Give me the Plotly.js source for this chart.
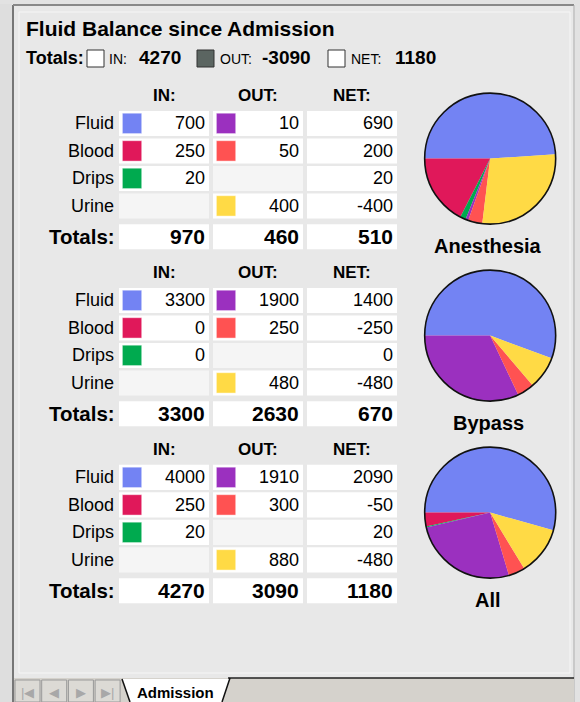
<!DOCTYPE html>
<html><head><meta charset="utf-8">
<script src="https://cdn.plot.ly/plotly-3.0.1.min.js"></script>
<style>html,body{margin:0;padding:0;background:#e8e8e8;}#chart{width:580px;height:702px;}</style>
</head><body><div id="chart"></div>
<script>
// ---------- DATA ----------
const sections = ['Anesthesia', 'Bypass', 'All'];
const rowLabels = ['Fluid', 'Blood', 'Drips', 'Urine'];
const colHeaders = ['IN:', 'OUT:', 'NET:'];
const inColors  = ['#7383f3', '#e0185a', '#00aa4f', null];
const outColors = ['#9b30bf', '#ff5252', null, '#ffda45'];

const anesthesiaIn  = [700, 250, 20, null];
const anesthesiaOut = [10, 50, null, 400];
const anesthesiaNet = [690, 200, 20, -400];
const anesthesiaTotals = [970, 460, 510];

const bypassIn  = [3300, 0, 0, null];
const bypassOut = [1900, 250, null, 480];
const bypassNet = [1400, -250, 0, -480];
const bypassTotals = [3300, 2630, 670];

const allIn  = [4000, 250, 20, null];
const allOut = [1910, 300, null, 880];
const allNet = [2090, -50, 20, -480];
const allTotals = [4270, 3090, 1180];

const grandLabels = ['IN:', 'OUT:', 'NET:'];
const grandTotals = [4270, -3090, 1180];

const sectionData = [
  {ins: anesthesiaIn, outs: anesthesiaOut, nets: anesthesiaNet, totals: anesthesiaTotals},
  {ins: bypassIn, outs: bypassOut, nets: bypassNet, totals: bypassTotals},
  {ins: allIn, outs: allOut, nets: allNet, totals: allTotals}
];

// ---------- LAYOUT GEOMETRY ----------
const W = 580, H = 702;
const X0 = 164, DX = 94;      // column scale (px)
const Y0 = 123.4, DY = 27.5;  // row scale (px)
const SEC = 6.436;            // rows between sections
const TOT_ROW = 4.12;
const HALF_W = 0.479, HALF_H = 0.455;
const FONT = 'Liberation Sans, Arial, sans-serif';
const px = x => x / W;
const py = y => 1 - y / H;
const colToPx = c => X0 + c * DX;
const rowToPx = r => Y0 + r * DY;

const shapes = [];
const annotations = [];
const traces = [];

// ---------- FRAME DECORATION ----------
shapes.push({type:'rect', xref:'paper', yref:'paper', x0:0, x1:px(12), y0:0, y1:1, fillcolor:'#dedede', line:{width:0}, layer:'below'});
shapes.push({type:'rect', xref:'paper', yref:'paper', x0:px(575), x1:1, y0:0, y1:1, fillcolor:'#e2e2e2', line:{width:0}, layer:'below'});
shapes.push({type:'rect', xref:'paper', yref:'paper', x0:0, x1:1, y0:py(4), y1:1, fillcolor:'#e2e2e2', line:{width:0}, layer:'below'});
shapes.push({type:'line', xref:'paper', yref:'paper', x0:px(13), x1:px(13), y0:0, y1:py(5), line:{color:'#777', width:2}});
shapes.push({type:'line', xref:'paper', yref:'paper', x0:px(13), x1:px(574), y0:py(5), y1:py(5), line:{color:'#888', width:2}});
shapes.push({type:'line', xref:'paper', yref:'paper', x0:px(574), x1:px(574), y0:0, y1:py(5), line:{color:'#aaa', width:1}});
shapes.push({type:'rect', xref:'paper', yref:'paper', x0:px(19), x1:px(570), y0:py(673), y1:py(12), fillcolor:'rgba(0,0,0,0)', line:{color:'#f6f6f6', width:1}});

// tab bar
shapes.push({type:'rect', xref:'paper', yref:'paper', x0:px(14), x1:px(574), y0:0, y1:py(678), fillcolor:'#d5d2cc', line:{width:0}});
shapes.push({type:'line', xref:'paper', yref:'paper', x0:px(228), x1:px(574), y0:py(678), y1:py(678), line:{color:'#222', width:1.5}});
for (let i = 0; i < 4; i++) {
  const bx = 15 + i * 26.7;
  shapes.push({type:'rect', xref:'paper', yref:'paper', x0:px(bx), x1:px(bx + 25), y0:0, y1:py(680), fillcolor:'#dcdad5', line:{color:'#999', width:1}});
}
const navIcons = ['|◀', '◀', '▶', '▶|'];
navIcons.forEach((t, i) => {
  annotations.push({xref:'paper', yref:'paper', x:px(15 + i * 26.7 + 12.5), y:py(692), text:t, showarrow:false, font:{family:FONT, size:13, color:'#a8a8a8'}, xanchor:'center', yanchor:'middle'});
});
shapes.push({type:'path', xref:'paper', yref:'paper', path:`M ${px(122)} ${py(679)} L ${px(130)} ${py(702)} L ${px(222)} ${py(702)} L ${px(230)} ${py(679)} Z`, fillcolor:'#ffffff', line:{width:0}});
shapes.push({type:'line', xref:'paper', yref:'paper', x0:px(122), x1:px(130), y0:py(679), y1:py(702), line:{color:'#111', width:1.5}});
shapes.push({type:'line', xref:'paper', yref:'paper', x0:px(230), x1:px(222), y0:py(678), y1:py(702), line:{color:'#111', width:1.5}});
annotations.push({xref:'paper', yref:'paper', x:px(175), y:py(692), text:'<b>Admission</b>', showarrow:false, font:{family:FONT, size:15, color:'#000'}, xanchor:'center', yanchor:'middle'});

// ---------- HEADER ----------
annotations.push({xref:'paper', yref:'paper', x:px(24), y:py(28), text:'<b>Fluid Balance since Admission</b>', showarrow:false, font:{family:FONT, size:21, color:'#000'}, xanchor:'left', yanchor:'middle'});
annotations.push({xref:'paper', yref:'paper', x:px(24), y:py(58), text:'<b>Totals:</b>', showarrow:false, font:{family:FONT, size:18, color:'#000'}, xanchor:'left', yanchor:'middle'});
const grandBoxX = [87, 197, 328];
const grandBoxFill = ['#ffffff', '#5b6561', '#ffffff'];
const grandLabelX = [107, 218, 349];
const grandValX = [137, 260, 393];
grandLabels.forEach((lab, i) => {
  shapes.push({type:'rect', xref:'paper', yref:'paper', x0:px(grandBoxX[i]), x1:px(grandBoxX[i] + 17), y0:py(67), y1:py(50), fillcolor:grandBoxFill[i], line:{color:'#333', width:1}});
  annotations.push({xref:'paper', yref:'paper', x:px(grandLabelX[i]), y:py(59), text:lab, showarrow:false, font:{family:FONT, size:14, color:'#000'}, xanchor:'left', yanchor:'middle'});
  annotations.push({xref:'paper', yref:'paper', x:px(grandValX[i]), y:py(58), text:'<b>' + grandTotals[i] + '</b>', showarrow:false, font:{family:FONT, size:19, color:'#000'}, xanchor:'left', yanchor:'middle'});
});

// ---------- TABLES + PIES ----------
sectionData.forEach((sd, s) => {
  const off = s * SEC;
  const colsVals = [sd.ins, sd.outs, sd.nets];
  const colsColors = [inColors, outColors, null];
  colHeaders.forEach((h, c) => {
    annotations.push({xref:'x', yref:'y', x:c, y:off - 1.03, text:'<b>' + h + '</b>', showarrow:false, font:{family:FONT, size:17, color:'#000'}, xanchor:'center', yanchor:'middle'});
  });
  rowLabels.forEach((lab, r) => {
    const yr = off + r;
    annotations.push({xref:'x', yref:'y', x:-HALF_W - 0.035, y:yr, text:lab, showarrow:false, font:{family:FONT, size:18, color:'#000'}, xanchor:'right', yanchor:'middle'});
    colsVals.forEach((vals, c) => {
      const v = vals[r];
      shapes.push({type:'rect', xref:'x', yref:'y', x0:c - HALF_W, x1:c + HALF_W, y0:yr - HALF_H, y1:yr + HALF_H, fillcolor: v === null ? '#f5f5f5' : '#ffffff', line:{width:0}, layer:'below'});
      if (v !== null) {
        annotations.push({xref:'x', yref:'y', x:c + HALF_W - 0.02, y:yr, text:String(v), showarrow:false, font:{family:FONT, size:18, color:'#000'}, xanchor:'right', yanchor:'middle'});
        const cols = colsColors[c];
        if (cols && cols[r]) {
          shapes.push({type:'rect', xref:'x', yref:'y', x0:c - 0.34 - 0.103, x1:c - 0.34 + 0.103, y0:yr - 0.371, y1:yr + 0.371, fillcolor:cols[r], line:{color:'rgba(255,255,255,0.45)', width:1}});
        }
      }
    });
  });
  const yt = off + TOT_ROW;
  annotations.push({xref:'x', yref:'y', x:-HALF_W - 0.025, y:yt, text:'<b>Totals:</b>', showarrow:false, font:{family:FONT, size:20.5, color:'#000'}, xanchor:'right', yanchor:'middle'});
  sd.totals.forEach((t, c) => {
    shapes.push({type:'rect', xref:'x', yref:'y', x0:c - HALF_W, x1:c + HALF_W, y0:yt - HALF_H, y1:yt + HALF_H, fillcolor:'#ffffff', line:{width:0}, layer:'below'});
    annotations.push({xref:'x', yref:'y', x:c + HALF_W - 0.02, y:yt, text:'<b>' + t + '</b>', showarrow:false, font:{family:FONT, size:21, color:'#000'}, xanchor:'right', yanchor:'middle'});
  });

  // pie
  const pcx = colToPx(3.47), pcy = rowToPx(off + 1.28), rad = 65.5;
  const dom = {x:[px(pcx - rad), px(pcx + rad)], y:[py(pcy + rad), py(pcy - rad)]};
  const pieLabels = ['Fluid IN', 'Blood IN', 'Drips IN', 'Fluid OUT', 'Blood OUT', 'Urine OUT'];
  const pieValues = [sd.ins[0], sd.ins[1], sd.ins[2], sd.outs[0], sd.outs[1], sd.outs[3]];
  const pieColors = [inColors[0], inColors[1], inColors[2], outColors[0], outColors[1], outColors[3]];
  traces.push({type:'pie', labels:pieLabels, values:pieValues, marker:{colors:pieColors, line:{width:0}}, sort:false, direction:'counterclockwise', rotation:-90, textinfo:'none', hoverinfo:'none', domain:dom, showlegend:false});
  traces.push({type:'pie', labels:['outline'], values:[1], marker:{colors:['rgba(0,0,0,0)'], line:{color:'#111', width:1.6}}, sort:false, textinfo:'none', hoverinfo:'none', domain:dom, showlegend:false});
  annotations.push({xref:'x', yref:'y', x:3.45, y:off + 4.47, text:'<b>' + sections[s] + '</b>', showarrow:false, font:{family:FONT, size:20, color:'#000'}, xanchor:'center', yanchor:'middle'});
});

const layout = {
  width: W, height: H,
  margin: {l:0, r:0, t:0, b:0},
  paper_bgcolor: '#e8e8e8', plot_bgcolor: 'rgba(0,0,0,0)',
  showlegend: false,
  xaxis: {range: [(0 - X0) / DX, (W - X0) / DX], domain:[0,1], visible:false, fixedrange:true},
  yaxis: {range: [(H - Y0) / DY, (0 - Y0) / DY], domain:[0,1], visible:false, fixedrange:true},
  shapes: shapes,
  annotations: annotations
};
traces.unshift({type:'scatter', x:[0], y:[0], mode:'markers', marker:{opacity:0}, hoverinfo:'none', showlegend:false});
Plotly.newPlot('chart', traces, layout, {staticPlot:true, displayModeBar:false});
</script></body></html>
